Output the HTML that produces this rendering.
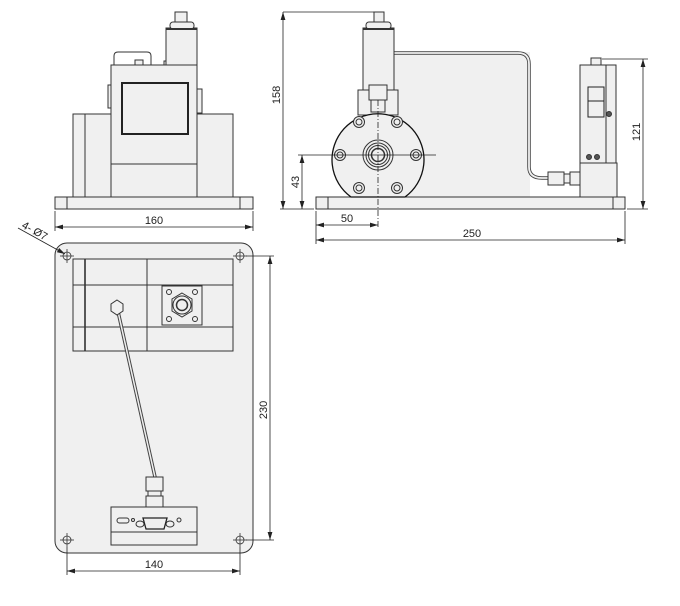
<!DOCTYPE html>
<html><head><meta charset="utf-8"><style>
html,body{margin:0;padding:0;background:#fff}
svg{display:block}
text{font-family:"Liberation Sans",sans-serif;font-size:11px;fill:#222}
</style></head><body>
<svg width="680" height="606" viewBox="0 0 680 606" xmlns="http://www.w3.org/2000/svg">
<defs>
<marker id="a" viewBox="0 0 10 6" refX="10" refY="3" markerWidth="8" markerHeight="5" orient="auto-start-reverse" markerUnits="userSpaceOnUse"><path d="M0,0 L10,3 L0,6 z" fill="#222"/></marker>
</defs>
<g fill="#f0f0f0" stroke="#333" stroke-width="1">
<!-- FRONT VIEW -->
<rect x="55" y="197" width="198" height="12"/>
<line x1="67" y1="197" x2="67" y2="209"/><line x1="240" y1="197" x2="240" y2="209"/>
<rect x="73" y="114" width="38" height="83"/>
<line x1="85" y1="114" x2="85" y2="197"/>
<rect x="197" y="114" width="36" height="83"/>
<rect x="108" y="85" width="3" height="23"/>
<rect x="197" y="89" width="5" height="24"/>
<path d="M114,65 L114,56 Q114,52 118,52 L147,52 Q151,52 151,56 L151,65" fill="none"/>
<rect x="135" y="60" width="8" height="5"/><rect x="164" y="61" width="6" height="4"/>
<rect x="111" y="65" width="86" height="132"/>
<line x1="111" y1="164" x2="197" y2="164"/>
<rect x="122" y="83" width="66" height="51" stroke="#222" stroke-width="2"/>
<rect x="166" y="28" width="31" height="37"/>
<rect x="170" y="22" width="24" height="7" rx="3"/>
<line x1="166" y1="29" x2="197" y2="29" stroke-width="2"/>
<rect x="175" y="12" width="12" height="10"/>

<!-- SIDE VIEW -->
<rect x="365" y="52" width="165" height="145" stroke="none"/>
<rect x="316" y="197" width="309" height="12"/>
<line x1="328" y1="197" x2="328" y2="209"/><line x1="613" y1="197" x2="613" y2="209"/>
<path d="M376,85 L376,62 Q376,53 386,53 L518,53 Q529,53 529,64 L529,167 Q529,178 542,178 L548,178" fill="none" stroke-width="3.5" stroke="#444"/>
<path d="M376,85 L376,62 Q376,53 386,53 L518,53 Q529,53 529,64 L529,167 Q529,178 542,178 L548,178" fill="none" stroke-width="1.8" stroke="#f0f0f0"/>
<rect x="548" y="172" width="16" height="13"/><rect x="564" y="174" width="6" height="9"/><rect x="570" y="172" width="10" height="13"/>
<rect x="363" y="28" width="31" height="62"/>
<rect x="366" y="22" width="25" height="7" rx="3"/>
<line x1="363" y1="29" x2="394" y2="29" stroke-width="2"/>
<rect x="374" y="12" width="10" height="10"/>
<rect x="358" y="90" width="40" height="25"/>
<rect x="369" y="85" width="18" height="15"/><rect x="371" y="100" width="14" height="12"/>
<path d="M351,197 A46,46 0 1 1 405,197 Z" stroke="#111" stroke-width="1.3"/>
<g fill="#f0f0f0">
<circle cx="359" cy="122" r="5.5"/><circle cx="359" cy="122" r="3"/>
<circle cx="397" cy="122" r="5.5"/><circle cx="397" cy="122" r="3"/>
<circle cx="340" cy="155" r="5.5"/><circle cx="340" cy="155" r="3"/>
<circle cx="416" cy="155" r="5.5"/><circle cx="416" cy="155" r="3"/>
<circle cx="359" cy="188" r="5.5"/><circle cx="359" cy="188" r="3"/>
<circle cx="397" cy="188" r="5.5"/><circle cx="397" cy="188" r="3"/>
<circle cx="378" cy="155" r="15"/><circle cx="378" cy="155" r="12"/><circle cx="378" cy="155" r="9.5"/><circle cx="378" cy="155" r="6.5" stroke-width="1.5"/>
</g>
<rect x="591" y="58" width="10" height="7"/>
<rect x="580" y="65" width="36" height="98"/>
<line x1="606" y1="65" x2="606" y2="163"/>
<rect x="580" y="163" width="37" height="34"/>
<rect x="588" y="87" width="16" height="14" stroke="#222"/><rect x="588" y="101" width="16" height="16" stroke="#222"/>
<circle cx="609" cy="114" r="2.5" fill="#555"/>
<circle cx="589" cy="157" r="2.5" fill="#555"/><circle cx="597" cy="157" r="2.5" fill="#555"/>

<!-- TOP VIEW -->
<rect x="55" y="243" width="198" height="310" rx="12"/>
<rect x="73" y="259" width="160" height="92"/>
<line x1="85" y1="259" x2="85" y2="351" stroke-width="1.6"/>
<line x1="147" y1="259" x2="147" y2="351"/>
<line x1="73" y1="285" x2="233" y2="285"/><line x1="73" y1="327" x2="233" y2="327"/>
<rect x="162" y="286" width="40" height="39"/>
<circle cx="169" cy="292" r="2.5"/><circle cx="195" cy="292" r="2.5"/><circle cx="169" cy="319" r="2.5"/><circle cx="195" cy="319" r="2.5"/>
<polygon points="182,293 192,299 192,311 182,317 172,311 172,299"/>
<circle cx="182" cy="305" r="9"/><circle cx="182" cy="305" r="5.5" stroke-width="1.5"/>
<line x1="117" y1="307" x2="155" y2="477" stroke="#444" stroke-width="3.5"/>
<line x1="117" y1="307" x2="155" y2="477" stroke="#f0f0f0" stroke-width="1.5"/>
<polygon points="117,300 123,304 123,311 117,315 111,311 111,304"/>
<rect x="146" y="477" width="17" height="14"/><rect x="148" y="491" width="13" height="5"/><rect x="146" y="496" width="17" height="11"/>
<rect x="111" y="507" width="86" height="38"/>
<line x1="111" y1="532" x2="197" y2="532"/>
<rect x="117" y="518" width="12" height="5" rx="2.5"/><circle cx="133" cy="520" r="1.5"/>
<ellipse cx="140" cy="524" rx="4" ry="3"/><ellipse cx="170" cy="524" rx="4" ry="3"/>
<path d="M143,518 L167,518 L164,529 L146,529 Z" stroke="#222" stroke-width="1.3"/>
<circle cx="179" cy="520" r="2"/>
</g>
<!-- mounting holes -->
<g stroke="#333" fill="none" stroke-width="0.8">
<g id="h"><circle cx="67" cy="256" r="4"/><line x1="60" y1="256" x2="74" y2="256"/><line x1="67" y1="249" x2="67" y2="263"/></g>
<circle cx="240" cy="256" r="4"/><line x1="233" y1="256" x2="247" y2="256"/><line x1="240" y1="249" x2="240" y2="263"/>
<circle cx="67" cy="540" r="4"/><line x1="60" y1="540" x2="74" y2="540"/><line x1="67" y1="533" x2="67" y2="547"/>
<circle cx="240" cy="540" r="4"/><line x1="233" y1="540" x2="247" y2="540"/><line x1="240" y1="533" x2="240" y2="547"/>
</g>
<!-- dimensions -->
<g stroke="#222" stroke-width="0.8" fill="none">
<line x1="55" y1="211" x2="55" y2="231"/><line x1="253" y1="211" x2="253" y2="231"/>
<line x1="55" y1="227" x2="253" y2="227" marker-start="url(#a)" marker-end="url(#a)"/>
<line x1="283" y1="12" x2="374" y2="12"/><line x1="280" y1="209" x2="314" y2="209"/>
<line x1="283" y1="12" x2="283" y2="209" marker-start="url(#a)" marker-end="url(#a)"/>
<line x1="298" y1="155" x2="436" y2="155"/>
<line x1="302" y1="155" x2="302" y2="209" marker-start="url(#a)" marker-end="url(#a)"/>
<line x1="378" y1="100" x2="378" y2="228" stroke-dasharray="6,2,1,2"/>
<line x1="316" y1="211" x2="316" y2="244"/><line x1="625" y1="211" x2="625" y2="244"/>
<line x1="316" y1="225" x2="378" y2="225" marker-start="url(#a)" marker-end="url(#a)"/>
<line x1="316" y1="240" x2="625" y2="240" marker-start="url(#a)" marker-end="url(#a)"/>
<line x1="602" y1="59" x2="648" y2="59"/><line x1="627" y1="209" x2="648" y2="209"/>
<line x1="643" y1="59" x2="643" y2="209" marker-start="url(#a)" marker-end="url(#a)"/>
<line x1="246" y1="256" x2="274" y2="256"/><line x1="246" y1="540" x2="274" y2="540"/>
<line x1="270" y1="256" x2="270" y2="540" marker-start="url(#a)" marker-end="url(#a)"/>
<line x1="67" y1="547" x2="67" y2="575"/><line x1="240" y1="547" x2="240" y2="575"/>
<line x1="67" y1="571" x2="240" y2="571" marker-start="url(#a)" marker-end="url(#a)"/>
<line x1="18" y1="228" x2="65" y2="254" marker-end="url(#a)"/>
</g>
<text x="154" y="224" text-anchor="middle">160</text>
<text transform="translate(280,95) rotate(-90)" text-anchor="middle">158</text>
<text transform="translate(299,182) rotate(-90)" text-anchor="middle">43</text>
<text x="347" y="222" text-anchor="middle">50</text>
<text x="472" y="237" text-anchor="middle">250</text>
<text transform="translate(640,132) rotate(-90)" text-anchor="middle">121</text>
<text transform="translate(267,410) rotate(-90)" text-anchor="middle">230</text>
<text x="154" y="568" text-anchor="middle">140</text>
<text transform="translate(33,234) rotate(29)" text-anchor="middle">4- Ø7</text>
</svg>
</body></html>
